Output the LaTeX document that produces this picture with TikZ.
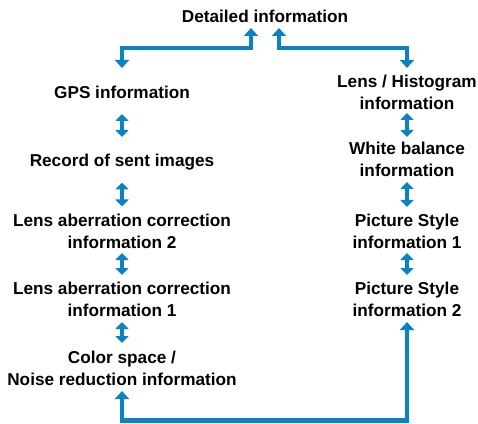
\documentclass[tikz,border=0pt]{standalone}
\usepackage{fontspec}
\setmainfont{Liberation Sans}
\usepackage{tikz}
\usetikzlibrary{arrows.meta, positioning}
\definecolor{MenuBlue}{HTML}{0B82C3}
\tikzset{
  infonode/.style={inner sep=0pt, align=center,
                   font=\fontsize{17.2}{22}\selectfont\bfseries},
  arrowpair/.style={{Triangle[width=13pt,length=7pt]}-{Triangle[width=13pt,length=7pt]},
                    line width=4pt, draw=MenuBlue},
  arrowloop/.style={{Triangle[width=14pt,length=8pt]}-{Triangle[width=14pt,length=8pt]},
                    line width=4.5pt, draw=MenuBlue}
}

\begin{document}
\begin{tikzpicture}[x=1pt, y=1pt]
  \useasboundingbox (0,0) rectangle (478,423);

  \node[infonode] (detail) at (265,406.7) {Detailed information};

  % left column
  \node[infonode] (gps)   at (122,330.5) {GPS information};
  \node[infonode] (sent)  at (122,261.2) {Record of sent images};
  \node[infonode] (lac2)  at (122,192)   {Lens aberration correction\\information 2};
  \node[infonode] (lac1)  at (122,124)   {Lens aberration correction\\information 1};
  \node[infonode] (color) at (122,54.7)  {Color space /\\Noise reduction information};

  % right column
  \node[infonode] (lens)  at (407,331)   {Lens / Histogram\\information};
  \node[infonode] (wb)    at (407,263.8) {White balance\\information};
  \node[infonode] (ps1)   at (407,192)   {Picture Style\\information 1};
  \node[infonode] (ps2)   at (407,124)   {Picture Style\\information 2};

  \draw[arrowloop] ([xshift=-14pt,yshift=-11.7pt]detail.center) -- ++(0,-20) -| ([yshift=24.5pt]gps.center);
  \draw[arrowloop] ([xshift=14pt,yshift=-11.7pt]detail.center) -- ++(0,-20) -| ([yshift=24pt]lens.center);

  \draw[arrowpair] ([yshift=-21.5pt]gps.center)  -- ([yshift=24.8pt]sent.center);
  \draw[arrowpair] ([yshift=-20.7pt]sent.center) -- ([yshift=24.5pt]lac2.center);
  \draw[arrowpair] ([yshift=-22pt]lac2.center)   -- ([yshift=24pt]lac1.center);
  \draw[arrowpair] ([yshift=-23pt]lac1.center)   -- ([yshift=25.3pt]color.center);

  \draw[arrowpair] ([yshift=-21pt]lens.center)   -- ([yshift=22.2pt]wb.center);
  \draw[arrowpair] ([yshift=-22.8pt]wb.center)   -- ([yshift=24pt]ps1.center);
  \draw[arrowpair] ([yshift=-22pt]ps1.center)    -- ([yshift=24pt]ps2.center);

  \draw[arrowloop] ([yshift=-22.7pt]color.center) -- ++(0,-29.5) -| ([yshift=-23pt]ps2.center);
\end{tikzpicture}
\end{document}
